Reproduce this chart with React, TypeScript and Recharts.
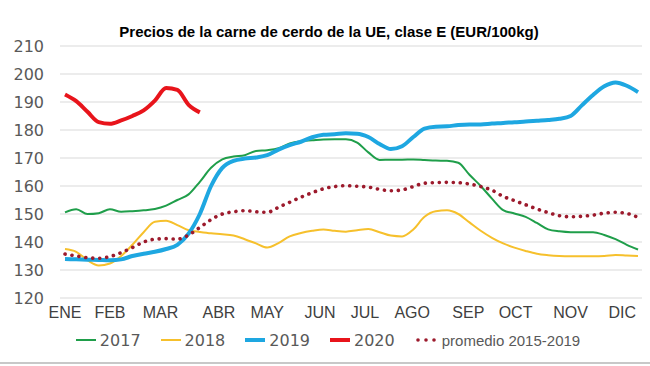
import { CartesianGrid, Legend, Line, LineChart, XAxis, YAxis } from "recharts"

const months = ["ENE", "FEB", "MAR", "ABR", "MAY", "JUN", "JUL", "AGO", "SEP", "OCT", "NOV", "DIC"]
// week index where each month label sits on the axis
const monthTickWeeks = [0, 4, 8.5, 13.7, 18, 22.7, 26.7, 30.9, 35.9, 40.1, 45, 49.6]
const yTicks = [120, 130, 140, 150, 160, 170, 180, 190, 200, 210]

// weekly prices, EUR/100kg
const y2017 = [
  150.6, 151.7, 150, 150.3, 151.7, 150.8, 151, 151.3, 151.8, 153, 155, 157, 161.5, 166.5, 169.5, 170.5, 171,
  172.5, 172.8, 173.5, 175.2, 176, 176.3, 176.6, 176.7, 176.7, 175.5, 172, 169.3, 169.4, 169.4, 169.5, 169.3,
  169.1, 169, 168.3, 164, 160, 155.5, 151.4, 150.2, 149, 146.8, 144.5, 143.8, 143.5, 143.5, 143.5, 142.5, 141,
  139, 137.3,
]
const y2018 = [
  137.5, 136.5, 133.5, 131.6, 132.3, 135, 139, 143.5, 147.2, 147.6, 146, 144.2, 143.6, 143.1, 142.8, 142.3, 141,
  139.5, 138, 139.6, 142, 143.2, 144, 144.5, 144, 143.7, 144.2, 144.6, 143.5, 142.3, 142, 144.5, 149, 151, 151.3,
  150, 147, 144, 141.5, 139.5, 138, 136.8, 135.8, 135.3, 135, 134.9, 134.9, 134.9, 135, 135.4, 135.2, 135,
]
const y2019 = [
  133.9, 133.8, 133.7, 133.6, 133.5, 133.8, 135, 135.8, 136.5, 137.5, 139, 143, 150, 160, 166.5, 169, 169.8,
  170.2, 171, 173, 174.6, 175.8, 177.4, 178.3, 178.5, 178.8, 178.7, 177.5, 175, 173.2, 174.2, 177.5, 180.5, 181.2,
  181.3, 181.8, 182, 182, 182.3, 182.5, 182.8, 183, 183.3, 183.6, 184, 185, 188.8, 192.5, 195.6, 197, 195.8, 193.5,
]
const y2020 = [192.7, 190.3, 186.5, 182.8, 182.2, 183.4, 185, 187, 190.5, 195, 194.3, 189, 186.3]
const avg1519 = [
  135.7, 135, 134.4, 134.2, 134.8, 136.2, 138, 140, 141, 141.2, 141, 142.5, 145.2, 148, 150, 150.8, 151.2, 150.8,
  150.6, 152.4, 154.2, 156, 157.6, 159, 159.8, 160.1, 159.9, 159.6, 158.8, 158.3, 158.6, 159.8, 161, 161.2, 161.3,
  161.2, 160.7, 159.8, 158.5, 156.3, 154.8, 153.3, 151.8, 150.5, 149.4, 149, 149.2, 149.6, 150.3, 150.6, 150.2,
  148.8,
]

const data = y2017.map((v, i) => ({
  week: i,
  y2017: v,
  y2018: y2018[i],
  y2019: y2019[i],
  y2020: y2020[i],
  avg: avg1519[i],
}))

const series = [
  { key: "y2017", name: "2017", color: "#1f9e4a", width: 2 },
  { key: "y2018", name: "2018", color: "#f6c02c", width: 2 },
  { key: "y2019", name: "2019", color: "#1ea7e1", width: 4 },
  { key: "y2020", name: "2020", color: "#e8141b", width: 4 },
]

const avgColor = "#9c1a2c"

function LegendBox() {
  return (
    <div
      style={{
        height: 24,
        display: "flex",
        justifyContent: "center",
        alignItems: "center",
        color: "#595959",
        paddingLeft: 6,
      }}
    >
      {series.map((s) => (
        <div key={s.key} style={{ display: "flex", alignItems: "center", margin: "0 10px" }}>
          <svg width={20} height={8} style={{ marginRight: 4 }}>
            <line x1={0} y1={4} x2={20} y2={4} stroke={s.color} strokeWidth={s.width} />
          </svg>
          <span style={{ fontFamily: "'DejaVu Sans', sans-serif", fontSize: 16 }}>{s.name}</span>
        </div>
      ))}
      <div style={{ display: "flex", alignItems: "center", margin: "0 10px" }}>
        <svg width={24} height={8} style={{ marginRight: 3 }}>
          {[3, 11, 19].map((cx) => (
            <circle key={cx} cx={cx} cy={4} r={1.8} fill={avgColor} />
          ))}
        </svg>
        <span style={{ fontFamily: "'Liberation Sans Narrow', 'Liberation Sans', Arial, sans-serif", fontSize: 15 }}>
          promedio 2015-2019
        </span>
      </div>
    </div>
  )
}

export default function App() {
  return (
    <div style={{ position: "absolute", left: 0, top: 0, width: 650, height: 366, background: "#fff" }}>
      <div
        style={{
          position: "absolute",
          top: 23,
          left: 0,
          width: 658,
          textAlign: "center",
          fontFamily: "'Liberation Sans', Arial, sans-serif",
          fontWeight: "bold",
          fontSize: 15,
          color: "#000",
        }}
      >
        Precios de la carne de cerdo de la UE, clase E (EUR/100kg)
      </div>
      <LineChart width={650} height={366} data={data} margin={{ top: 46, right: 8, left: 0, bottom: 14 }}>
        <CartesianGrid vertical={false} stroke="#d9d9d9" strokeWidth={1} />
        <XAxis
          dataKey="week"
          type="number"
          domain={[0, 51]}
          ticks={monthTickWeeks}
          interval={0}
          padding={{ left: 5, right: 4 }}
          tickFormatter={(v) => months[monthTickWeeks.indexOf(v)]}
          axisLine={false}
          tickLine={false}
          tickMargin={3}
          height={30}
          tick={{ fill: "#404040", fontSize: 16, fontFamily: "'Liberation Sans Narrow', 'Liberation Sans', Arial, sans-serif" }}
        />
        <YAxis
          domain={[120, 210]}
          ticks={yTicks}
          interval={0}
          width={60}
          axisLine={false}
          tickLine={false}
          tickMargin={10}
          tick={{ fill: "#595959", fontSize: 16, fontFamily: "'DejaVu Sans', sans-serif" }}
        />
        <Legend verticalAlign="bottom" content={() => <LegendBox />} wrapperStyle={{ left: 0, width: 650 }} />
        {series.map((s) => (
          <Line
            key={s.key}
            type="monotone"
            dataKey={s.key}
            name={s.name}
            stroke={s.color}
            strokeWidth={s.width}
            dot={false}
            activeDot={false}
            isAnimationActive={false}
          />
        ))}
        <Line
          type="monotone"
          dataKey="avg"
          name="promedio 2015-2019"
          stroke={avgColor}
          strokeWidth={3.6}
          strokeDasharray="0.1 6.9"
          strokeLinecap="round"
          dot={false}
          activeDot={false}
          isAnimationActive={false}
        />
      </LineChart>
      <div style={{ position: "absolute", left: 0, top: 362, width: 650, height: 2, background: "#c8c8c8" }} />
    </div>
  )
}
